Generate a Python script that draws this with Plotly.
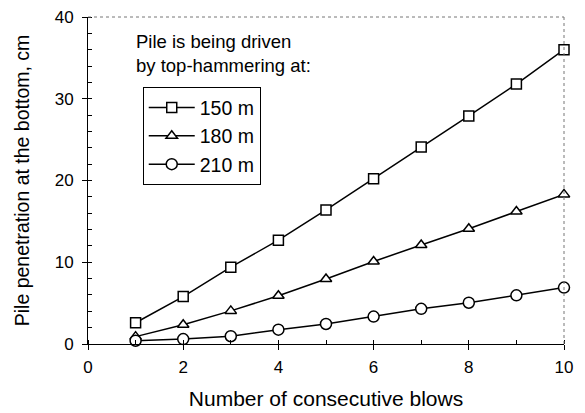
import plotly.graph_objects as go

blows = [1, 2, 3, 4, 5, 6, 7, 8, 9, 10]
pen_150 = [2.6, 5.8, 9.4, 12.7, 16.4, 20.2, 24.1, 27.9, 31.8, 36.0]
pen_180 = [0.9, 2.35, 4.05, 5.9, 7.95, 10.1, 12.1, 14.1, 16.2, 18.3]
pen_210 = [0.4, 0.6, 0.95, 1.75, 2.45, 3.35, 4.3, 5.05, 5.95, 6.9]
series_names = ["150 m", "180 m", "210 m"]
symbols = ["square", "triangle-up", "circle"]
sizes = [10, 10, 11]

FONT = "Liberation Sans, Arial, sans-serif"

fig = go.Figure()
for i, (name, ys, sym, sz) in enumerate(zip(series_names, [pen_150, pen_180, pen_210], symbols, sizes)):
    fig.add_trace(go.Scatter(
        x=blows, y=ys, name=name, mode="lines+markers",
        legendgroup=f"g{i}",
        line=dict(color="black", width=1.5),
        marker=dict(symbol=sym, size=sz,
                    color="white", line=dict(color="black", width=1.5)),
        cliponaxis=False,
    ))

fig.update_layout(
    width=585, height=413,
    margin=dict(l=88, r=21, t=17, b=69),
    paper_bgcolor="white", plot_bgcolor="white",
    font=dict(family=FONT, color="black", size=17),
    showlegend=True,
    legend=dict(
        x=0.115, y=0.785, xanchor="left", yanchor="top",
        bordercolor="black", borderwidth=1, bgcolor="white",
        font=dict(size=19.5), tracegroupgap=0, itemwidth=46,
    ),
    xaxis=dict(
        range=[0, 10], dtick=2, tick0=0, showgrid=False, zeroline=False,
        showline=True, linecolor="black", linewidth=1, automargin=False,
        ticks="outside", ticklen=5, tickcolor="black",
        minor=dict(dtick=1, ticks="inside", ticklen=4, tickcolor="black"),
        tickfont=dict(size=17), ticklabelstandoff=3,
        title=dict(text="Number of consecutive blows", font=dict(size=21), standoff=14),
    ),
    yaxis=dict(
        range=[0, 40], dtick=10, tick0=0, showgrid=False, zeroline=False,
        showline=True, linecolor="black", linewidth=1, automargin=False,
        ticks="outside", ticklen=5, tickcolor="black",
        minor=dict(dtick=2, ticks="inside", ticklen=4, tickcolor="black"),
        tickfont=dict(size=17), ticklabelstandoff=5,
        title=dict(text="Pile penetration at the bottom, cm", font=dict(size=19.5), standoff=19),
    ),
    shapes=[
        dict(type="line", xref="paper", yref="paper", x0=0, x1=1, y0=1, y1=1,
             line=dict(color="#777", width=1, dash="dot")),
        dict(type="line", xref="paper", yref="paper", x0=1, x1=1, y0=0, y1=1,
             line=dict(color="#777", width=1, dash="dot")),
    ],
    annotations=[
        dict(text="Pile is being driven<br>by top-hammering at:", xref="paper", yref="paper",
             x=0.097, y=0.963, xanchor="left", yanchor="top", showarrow=False,
             align="left", font=dict(size=18.5)),
    ],
)

fig.write_html("out.html")
